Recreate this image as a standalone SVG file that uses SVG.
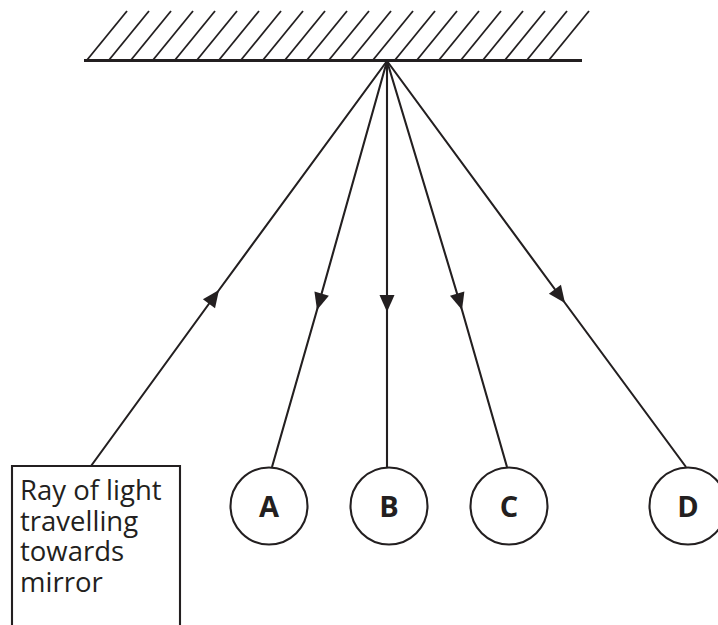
<svg xmlns="http://www.w3.org/2000/svg" width="718" height="625" viewBox="0 0 718 625">
<style>
.ray{fill:none;stroke:#231f20;stroke-width:2.1;marker-mid:url(#arr)}
.hatch line{stroke:#231f20;stroke-width:1.8}
.node circle{fill:#fff;stroke:#231f20;stroke-width:2.1}
.lbl{font-family:"Open Sans","Noto Sans",sans-serif;font-weight:bold;font-size:29px;fill:#231f20;text-anchor:middle}
.txt{font-family:"Open Sans","Noto Sans",sans-serif;font-size:27.5px;fill:#231f20}
</style>
<defs>
<marker id="arr" markerUnits="userSpaceOnUse" markerWidth="20" markerHeight="20" viewBox="-18 -10 20 20" refX="0" refY="0" orient="auto">
<path d="M0,0 L-17,-7.5 L-17,7.5 Z" fill="#231f20"/>
</marker>
</defs>
<g id="mirror">
<line x1="84" y1="60.5" x2="582" y2="60.5" stroke="#231f20" stroke-width="2.8"/>
<g class="hatch">
<line x1="87" y1="60" x2="127" y2="11"/>
<line x1="109" y1="60" x2="149" y2="11"/>
<line x1="131" y1="60" x2="171" y2="11"/>
<line x1="153" y1="60" x2="193" y2="11"/>
<line x1="175" y1="60" x2="215" y2="11"/>
<line x1="197" y1="60" x2="237" y2="11"/>
<line x1="219" y1="60" x2="259" y2="11"/>
<line x1="241" y1="60" x2="281" y2="11"/>
<line x1="263" y1="60" x2="303" y2="11"/>
<line x1="285" y1="60" x2="325" y2="11"/>
<line x1="307" y1="60" x2="347" y2="11"/>
<line x1="329" y1="60" x2="369" y2="11"/>
<line x1="351" y1="60" x2="391" y2="11"/>
<line x1="373" y1="60" x2="413" y2="11"/>
<line x1="395" y1="60" x2="435" y2="11"/>
<line x1="417" y1="60" x2="457" y2="11"/>
<line x1="439" y1="60" x2="479" y2="11"/>
<line x1="461" y1="60" x2="501" y2="11"/>
<line x1="483" y1="60" x2="523" y2="11"/>
<line x1="505" y1="60" x2="545" y2="11"/>
<line x1="527" y1="60" x2="567" y2="11"/>
<line x1="549" y1="60" x2="589" y2="11"/>
</g>
</g>
<g id="connectors">
<polyline class="ray" points="91,466 219,290 387,61"/>
<polyline class="ray" points="387,61 317,310 272,467"/>
<polyline class="ray" points="387,61 387,312 387,467"/>
<polyline class="ray" points="387,61 462,310 507,467"/>
<polyline class="ray" points="387,61 565,303 686,467"/>
</g>
<g id="box">
<polyline points="12,625 12,466 180,466 180,625" fill="none" stroke="#231f20" stroke-width="2.1"/>
<text class="txt"><tspan x="20" y="500">Ray of light</tspan><tspan x="20" y="531">travelling</tspan><tspan x="20" y="561">towards</tspan><tspan x="20" y="592">mirror</tspan></text>
</g>
<g id="nodeA" class="node"><circle cx="269" cy="506" r="38.5"/><text class="lbl" x="269" y="517">A</text></g>
<g id="nodeB" class="node"><circle cx="389" cy="506" r="38.5"/><text class="lbl" x="389" y="517">B</text></g>
<g id="nodeC" class="node"><circle cx="509" cy="506" r="38.5"/><text class="lbl" x="509" y="517">C</text></g>
<g id="nodeD" class="node"><circle cx="688" cy="506" r="38.5"/><text class="lbl" x="688" y="517">D</text></g>
</svg>
